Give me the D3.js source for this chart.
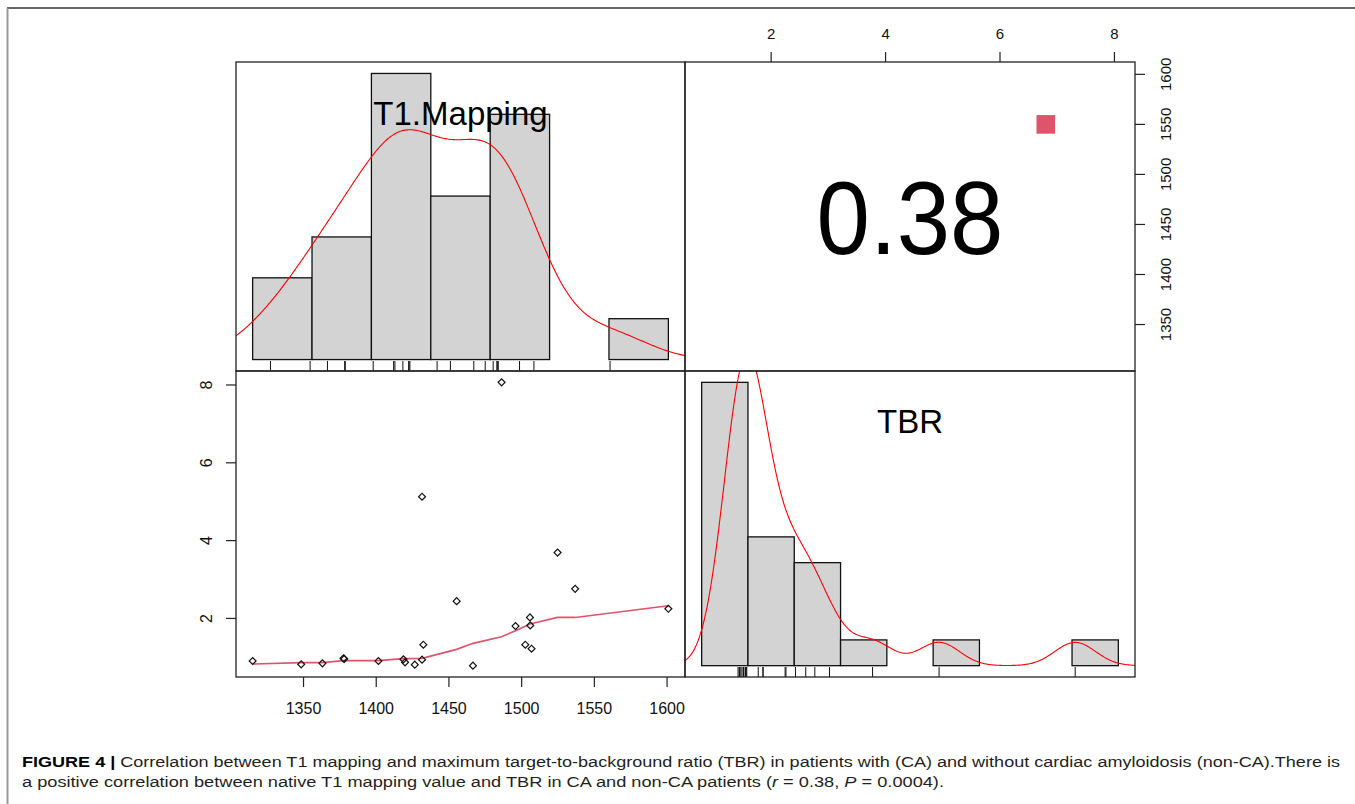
<!DOCTYPE html>
<html>
<head>
<meta charset="utf-8">
<script src="https://cdn.jsdelivr.net/npm/d3@7"></script>
<style>
body { margin: 0; background: #fff; }
svg text { font-family: "Liberation Sans", Arial, sans-serif; }
</style>
</head>
<body>
<script>
// values (23 patients)
var t1 = [1315.0, 1348.4, 1363.0, 1377.5, 1378.0, 1401.5, 1418.7, 1419.8, 1426.5, 1431.5, 1432.4, 1431.5,
          1455.3, 1466.5, 1486.2, 1495.8, 1502.5, 1505.7, 1505.9, 1506.8, 1524.7, 1536.8, 1600.9];
var tbr = [0.906, 0.820, 0.846, 0.974, 0.960, 0.906, 0.949, 0.872, 0.812, 0.940, 1.325, 5.128,
           2.444, 0.786, 8.068, 1.803, 1.325, 2.026, 1.820, 1.222, 3.692, 2.761, 2.248];
var varNames = ["T1.Mapping", "TBR"];
var t1Breaks = [1300, 1350, 1400, 1450, 1500, 1550, 1600, 1650];
var tbrBreaks = [0, 1, 2, 3, 4, 5, 6, 7, 8, 9];
// smoother in the scatter panel
var smoothT1 = [1315.0, 1348.4, 1363.0, 1377.5, 1401.5, 1418.7, 1431.5, 1455.3, 1466.5, 1486.2, 1495.8, 1505.7, 1524.7, 1536.8, 1600.9];
var smoothTbr = [0.829, 0.863, 0.863, 0.915, 0.915, 0.966, 0.974, 1.205, 1.359, 1.530, 1.684, 1.855, 2.026, 2.026, 2.325];
var t1Ticks = [1350, 1400, 1450, 1500, 1550, 1600];
var tbrTicks = [2, 4, 6, 8];
var corrText = "0.38";
var sigMark = [6.8, 1550]; // TBR, T1

var W = 1355, H = 804;
var L = 236, M = 685, R = 1135, T = 62, MY = 371, B = 677;

var svg = d3.select('body').append('svg')
    .attr('width', W)
    .attr('height', H);

function ext4(v) {
    var e = d3.extent(v), d = (e[1] - e[0]) * 0.04;
    return [e[0] - d, e[1] + d];
}

// counts like R hist (right closed, lowest included)
function histCounts(v, br) {
    var out = [];
    for (var i = 0; i < br.length - 1; i++) {
        var c = v.filter(function (x) {
            return (x > br[i] || (i == 0 && x >= br[i])) && x <= br[i + 1];
        }).length;
        out.push({x0: br[i], x1: br[i + 1], dens: c / (v.length * (br[i + 1] - br[i]))});
    }
    return out;
}

// gaussian kde with bw.nrd0, 512 points, cut = 3
function kde(v) {
    var s = v.slice().sort(d3.ascending);
    var iqr = d3.quantileSorted(s, 0.75) - d3.quantileSorted(s, 0.25);
    var bw = 0.9 * Math.min(d3.deviation(s), iqr / 1.34) * Math.pow(s.length, -0.2);
    var lo = s[0] - 3 * bw, hi = s[s.length - 1] + 3 * bw;
    var pts = [];
    for (var i = 0; i < 512; i++) {
        var x = lo + (hi - lo) * i / 511;
        var sum = 0;
        s.forEach(function (xi) {
            var u = (x - xi) / bw;
            sum += Math.exp(-0.5 * u * u);
        });
        pts.push([x, sum / (s.length * bw * Math.sqrt(2 * Math.PI))]);
    }
    return pts;
}

var defs = svg.append('defs');
function clip(id, x0, y0, x1, y1) {
    defs.append('clipPath').attr('id', id)
        .append('rect').attr('x', x0).attr('y', y0).attr('width', x1 - x0).attr('height', y1 - y0);
}
clip('c1', L, T, M, MY);
clip('c2', M, MY, R, B);
clip('c3', L, MY, M, B);

// frame of the figure
svg.append('line').attr('x1', 7).attr('x2', W).attr('y1', 8).attr('y2', 8)
    .attr('stroke', '#333').attr('stroke-width', 1.5);
svg.append('line').attr('x1', 7.5).attr('x2', 7.5).attr('y1', 8).attr('y2', H)
    .attr('stroke', '#999').attr('stroke-width', 2);

// diagonal histogram panels
function diagPanel(v, br, x0, x1, y0, y1, clipId, name) {
    var bins = histCounts(v, br);
    var maxD = d3.max(bins, function (d) { return d.dens; });
    var hx = d3.scaleLinear().domain(ext4([br[0], br[br.length - 1]])).range([x0, x1]);
    var hy = d3.scaleLinear().domain([-0.04 * maxD, 1.04 * maxD]).range([y1, y0]);
    var g = svg.append('g').attr('clip-path', 'url(#' + clipId + ')');

    g.selectAll('.bar')
        .data(bins.filter(function (d) { return d.dens > 0; }))
        .enter()
        .append('rect')
        .attr('class', 'bar')
        .attr('x', function (d) { return hx(d.x0); })
        .attr('width', function (d) { return hx(d.x1) - hx(d.x0); })
        .attr('y', function (d) { return hy(d.dens); })
        .attr('height', function (d) { return hy(0) - hy(d.dens); })
        .attr('fill', '#d3d3d3')
        .attr('stroke', '#111')
        .attr('stroke-width', 1.3);

    g.append('path')
        .datum(kde(v))
        .attr('d', d3.line().x(function (d) { return hx(d[0]); }).y(function (d) { return hy(d[1]); }))
        .attr('fill', 'none')
        .attr('stroke', '#ff0000')
        .attr('stroke-width', 1.1);

    // rug
    g.selectAll('.rug')
        .data(v)
        .enter()
        .append('line')
        .attr('x1', function (d) { return hx(d); })
        .attr('x2', function (d) { return hx(d); })
        .attr('y1', y1)
        .attr('y2', y1 - 10)
        .attr('stroke', '#111')
        .attr('stroke-width', 1);

    svg.append('text')
        .attr('x', (x0 + x1) / 2)
        .attr('y', y0 + 0.163 * (y1 - y0) + 12.5)
        .attr('text-anchor', 'middle')
        .attr('font-size', 33)
        .attr('fill', '#000')
        .text(name);
}

diagPanel(t1, t1Breaks, L, M, T, MY, 'c1', varNames[0]);
diagPanel(tbr, tbrBreaks, M, R, MY, B, 'c2', varNames[1]);

// scatter panel (lower left)
var xs = d3.scaleLinear().domain(ext4(t1)).range([L, M]);
var ys = d3.scaleLinear().domain(ext4(tbr)).range([B, MY]);
var g3 = svg.append('g').attr('clip-path', 'url(#c3)');

g3.append('path')
    .datum(d3.zip(smoothT1, smoothTbr))
    .attr('d', d3.line().x(function (d) { return xs(d[0]); }).y(function (d) { return ys(d[1]); }))
    .attr('fill', 'none')
    .attr('stroke', '#df536b')
    .attr('stroke-width', 1.6);

g3.selectAll('.pt')
    .data(d3.zip(t1, tbr))
    .enter()
    .append('path')
    .attr('d', d3.symbol(d3.symbolSquare, 24))
    .attr('transform', function (d) { return 'translate(' + xs(d[0]) + ',' + ys(d[1]) + ') rotate(45)'; })
    .attr('fill', 'none')
    .attr('stroke', '#111')
    .attr('stroke-width', 1.2);

// upper right: correlation
var xr = d3.scaleLinear().domain(ext4(tbr)).range([M, R]);
var yr = d3.scaleLinear().domain(ext4(t1)).range([MY, T]);

svg.append('text')
    .attr('transform', 'translate(' + (M + R) / 2 + ',254) scale(1,1.077)')
    .attr('text-anchor', 'middle')
    .attr('font-size', 96)
    .attr('fill', '#000')
    .text(corrText);

svg.append('rect')
    .attr('x', xr(sigMark[0]) - 9.3)
    .attr('y', yr(sigMark[1]) - 9.3)
    .attr('width', 18.6)
    .attr('height', 18.6)
    .attr('fill', '#df536b');

// panel boxes
[[L, T, M, MY], [M, T, R, MY], [L, MY, M, B], [M, MY, R, B]].forEach(function (p) {
    svg.append('rect')
        .attr('x', p[0]).attr('y', p[1])
        .attr('width', p[2] - p[0]).attr('height', p[3] - p[1])
        .attr('fill', 'none')
        .attr('stroke', '#222')
        .attr('stroke-width', 1.3);
});

// axes
function ticks(list, pos, horiz, at, dir, labOff, size) {
    list.forEach(function (v) {
        var p = pos(v);
        var tl = svg.append('line').attr('stroke', '#222').attr('stroke-width', 1.2);
        var lab = svg.append('text')
            .attr('text-anchor', 'middle')
            .attr('dy', '0.35em')
            .attr('font-size', size)
            .attr('fill', '#111')
            .text(v);
        if (horiz) {
            tl.attr('x1', p).attr('x2', p).attr('y1', at).attr('y2', at + dir * 10);
            lab.attr('x', p).attr('y', at + dir * labOff);
        } else {
            tl.attr('y1', p).attr('y2', p).attr('x1', at).attr('x2', at + dir * 10);
            lab.attr('transform', 'translate(' + (at + dir * labOff) + ',' + p + ') rotate(-90)');
        }
    });
}
ticks(tbrTicks, xr, true, T, -1, 28, 15);
ticks(t1Ticks, yr, false, R, 1, 31, 15);
ticks(t1Ticks, xs, true, B, 1, 31, 16);
ticks(tbrTicks, ys, false, L, -1, 30, 16);

// caption
var cap1 = svg.append('text')
    .attr('x', 22).attr('y', 767)
    .attr('font-size', 15.5)
    .attr('fill', '#231f20')
    .attr('textLength', 1318)
    .attr('lengthAdjust', 'spacingAndGlyphs')
    .style('font-family', '"Liberation Sans Narrow", "Liberation Sans", Arial, sans-serif');
cap1.append('tspan').attr('font-weight', 'bold').attr('fill', '#000').text('FIGURE 4 | ');
cap1.append('tspan').text('Correlation between T1 mapping and maximum target-to-background ratio (TBR) in patients with (CA) and without cardiac amyloidosis (non-CA).There is');

var cap2 = svg.append('text')
    .attr('x', 22).attr('y', 787)
    .attr('font-size', 15.5)
    .attr('fill', '#231f20')
    .attr('textLength', 922)
    .attr('lengthAdjust', 'spacingAndGlyphs')
    .style('font-family', '"Liberation Sans Narrow", "Liberation Sans", Arial, sans-serif');
cap2.append('tspan').text('a positive correlation between native T1 mapping value and TBR in CA and non-CA patients (');
cap2.append('tspan').attr('font-style', 'italic').text('r');
cap2.append('tspan').text(' = 0.38, ');
cap2.append('tspan').attr('font-style', 'italic').text('P');
cap2.append('tspan').text(' = 0.0004).');
</script>
</body>
</html>
